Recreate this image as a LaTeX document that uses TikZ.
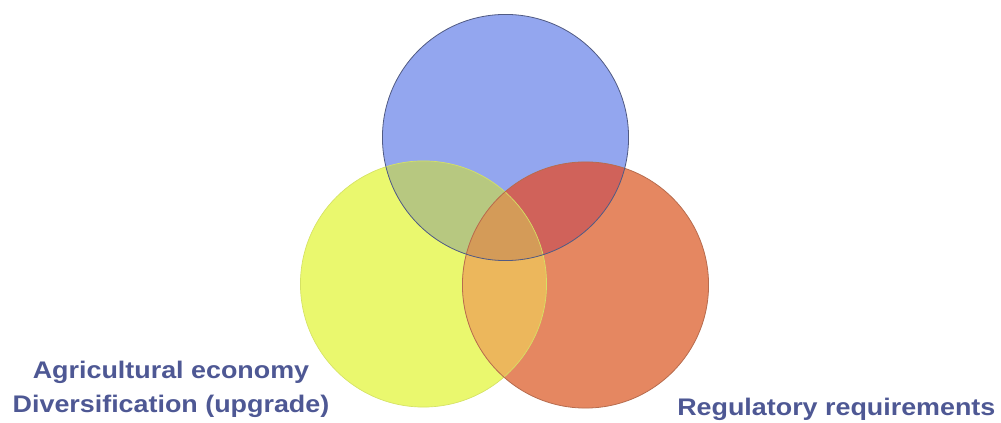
\documentclass[tikz,border=0pt]{standalone}
\usepackage{xcolor}
\usepackage{fontspec}
\newfontfamily\venntextfont[FakeStretch=1.12]{Liberation Sans}
\definecolor{topblue}{RGB}{147,166,239}
\definecolor{agriyellow}{RGB}{234,248,110}
\definecolor{reguorange}{RGB}{229,135,97}
\definecolor{mixyb}{RGB}{183,200,128}
\definecolor{mixrb}{RGB}{208,98,90}
\definecolor{mixyr}{RGB}{236,183,92}
\definecolor{mixall}{RGB}{212,155,88}
\definecolor{textslate}{RGB}{78,88,148}

\begin{document}
\begin{tikzpicture}[x=0.75pt, y=-0.75pt,
  setdisc/.style={radius=92.3pt},
  venntext/.style={font=\venntextfont\bfseries\fontsize{18}{25.5}\selectfont,
                   text=textslate, inner sep=0pt},
]
  \useasboundingbox (0,0) rectangle (1001,423);

  % centres of the three sets
  \coordinate (agri) at (423.5,284);
  \coordinate (regu) at (585.5,285);
  \coordinate (top) at (505.5,137.5);

  % plain discs
  \fill[agriyellow] (agri) circle[setdisc];
  \fill[reguorange] (regu) circle[setdisc];
  \fill[topblue] (top) circle[setdisc];

  % overlaps
  \begin{scope}
    \clip (agri) circle[setdisc];
    \fill[mixyb] (top) circle[setdisc];
    \fill[mixyr] (regu) circle[setdisc];
  \end{scope}
  \begin{scope}
    \clip (regu) circle[setdisc];
    \fill[mixrb] (top) circle[setdisc];
    \clip (top) circle[setdisc];
    \fill[mixall] (agri) circle[setdisc];
  \end{scope}

  % outlines
  \draw[agriyellow!85!black!60!agriyellow, line width=0.5pt] (agri) circle[setdisc];
  \draw[reguorange!80!black, line width=0.6pt] (regu) circle[setdisc];
  \draw[topblue!55!black, line width=0.6pt] (top) circle[setdisc];

  % labels
  \node[venntext, align=center, anchor=base] (agrilabel) at (171,413)
    {Agricultural economy\\Diversification (upgrade)};
  \node[venntext, anchor=base west] (regulabel) at (677,416)
    {Regulatory requirements};
\end{tikzpicture}
\end{document}
